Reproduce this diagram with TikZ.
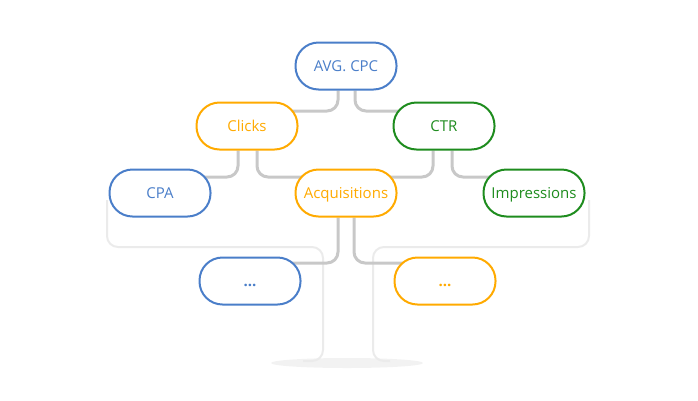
\documentclass[tikz,border=0pt]{standalone}
\usepackage{fontspec}
\setmainfont{Open Sans}
\usepackage{tikz}
\usetikzlibrary{backgrounds}
\definecolor{cBlue}{HTML}{4A7EC9}
\definecolor{cOrange}{HTML}{FFAA00}
\definecolor{cGreen}{HTML}{1E8C1E}
\definecolor{cLink}{HTML}{C8C8C8}
\definecolor{cTrunk}{HTML}{EBEBEB}
\definecolor{cShadow}{HTML}{F2F2F2}

\begin{document}
\begin{tikzpicture}[
  x=1pt,y=1pt,font=\fontsize{15}{18}\selectfont,
  box/.style={fill=white,rounded corners=23pt,line width=2pt,
              minimum width=101pt,minimum height=47pt,inner sep=0pt,
              text height=10.7pt,text depth=0pt},
  bl/.style={box,draw=cBlue,text=cBlue},
  og/.style={box,draw=cOrange,text=cOrange},
  gr/.style={box,draw=cGreen,text=cGreen},
  ln/.style={draw=cLink,line width=3pt,rounded corners=11pt},
  tr/.style={draw=cTrunk,line width=2pt,rounded corners=11pt}
]
\useasboundingbox (0,0) rectangle (698,-400);

% ---- nivel 1
\node[bl] (avg) at (346,-66)  {AVG. CPC};

% ---- nivel 2
\node[og] (clk) at (247,-126) {Clicks};
\node[gr] (ctr) at (444,-126) {CTR};

% ---- nivel 3
\node[bl] (cpa) at (160,-193) {CPA};
\node[og] (acq) at (346,-193) {Acquisitions};
\node[gr] (imp) at (534,-193) {Impressions};

% ---- nivel 4
\node[bl] (dl) at (250,-281) {\textbf{...}};
\node[og] (dr) at (445,-281) {\textbf{...}};

\begin{scope}[on background layer]
% ---- tronco
\fill[cShadow] (347,-363) ellipse (76 and 5);
\draw[tr] (107,-200) |- (323,-247) |- (303,-361);
\draw[tr] (589,-200) |- (373,-247) |- (390,-361);

% ---- ligacoes
\draw[ln] ([xshift=-8pt]avg.south) |- ([yshift=15pt]clk.center);
\draw[ln] ([xshift=9pt]avg.south)  |- ([yshift=15pt]ctr.center);
\draw[ln] ([xshift=-9pt]clk.south) |- ([yshift=16pt]cpa.center);
\draw[ln] ([xshift=10pt]clk.south) |- ([yshift=16pt]acq.center);
\draw[ln] ([xshift=-11pt]ctr.south) |- ([yshift=16pt]acq.center);
\draw[ln] ([xshift=8pt]ctr.south)  |- ([yshift=16pt]imp.center);
\draw[ln] ([xshift=-8pt]acq.south) |- ([yshift=18pt]dl.center);
\draw[ln] ([xshift=8pt]acq.south)  |- ([yshift=18pt]dr.center);
\end{scope}
\end{tikzpicture}
\end{document}
